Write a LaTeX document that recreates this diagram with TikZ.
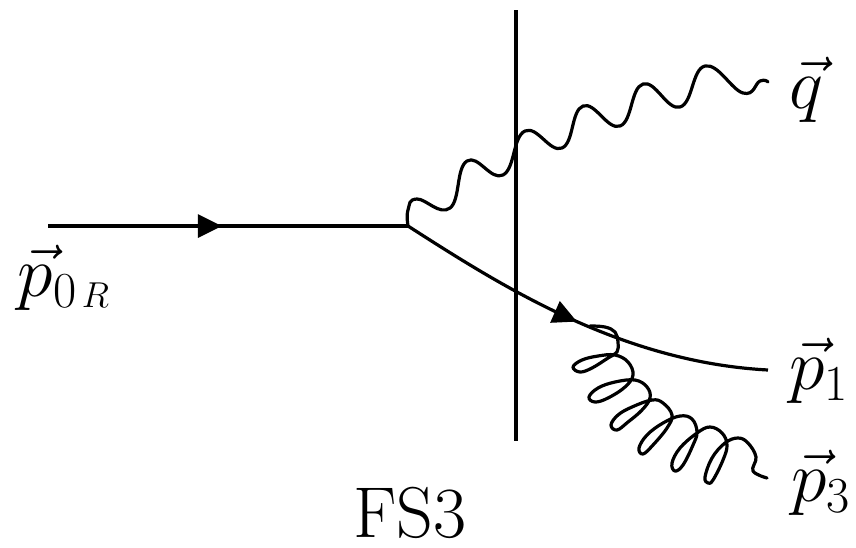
\documentclass[tikz,border=0pt]{standalone}
\usepackage{fix-cm}
\usepackage{amsmath}
\usetikzlibrary{arrows.meta,decorations.markings}
\tikzset{>=Stealth}

\begin{document}
\begin{tikzpicture}[x=0.5pt,y=-0.5pt]
  \tikzset{
    fline/.style={line width=1.6pt, black},
    wline/.style={line width=1.6pt, black, line join=round, line cap=round},
    arrowat/.style={postaction={decorate}, decoration={markings,
      mark=at position #1 with {\arrow{Triangle[length=12pt,width=11.5pt]}}}},
    plabel/.style={inner sep=0pt, font=\fontsize{36}{40}\selectfont}
  }
  \useasboundingbox (0,0) rectangle (856,547);

  \coordinate (in) at (48,226);
  \coordinate (vtx) at (408,226);
  \coordinate (cuttop) at (516,10);
  \coordinate (cutbot) at (516,441);
  \coordinate (qend) at (768,82);
  \coordinate (pone) at (768,370);
  \coordinate (pthree) at (767,478);

  \node[plabel] (lzero) at (64,278) {$\vec{p}_{0\mkern2mu\scriptscriptstyle R}$};
  \node[plabel] (lq) at (806,90) {$\vec{q}$};
  \node[plabel] (lone) at (819,371) {$\vec{p}_1$};
  \node[plabel] (lthree) at (821,483) {$\vec{p}_3$};
  \node[plabel] (lname) at (410,513) {FS3};

  \draw[fline, arrowat=0.483] (in) -- (vtx);
  \draw[fline] (cuttop) -- (cutbot);
  \draw[fline, arrowat=0.495] (vtx) .. controls (500,285) and (620,362) .. (pone);

  % photon
  \draw[wline] plot[smooth, tension=0.75] coordinates {(vtx) (408,210) (417,199) (450,208)
    (467,161) (503,175) (525,131) (562,148) (583,106) (620,126)
    (643,84) (680,107) (705,66) (743,93) (760,81) (qend)};

  % gluon
  \draw[wline] plot[smooth, tension=0.65] coordinates {(590,326) (605,327) (615,332) (618,342)
    (617,352) (608,358) (592,368) (580,372) (573,367) (582,360) (598,356) (615,355)
    (628,362) (633,375) (625,387) (608,398) (595,402) (589,397) (598,388) (615,382)
    (635,380) (647,387) (650,398) (642,410) (628,422) (617,430) (611,425) (618,415)
    (632,407) (652,400) (663,403) (672,415) (667,428) (653,445) (643,454) (639,448)
    (647,435) (663,423) (680,416) (692,419) (697,432) (693,445) (683,465) (675,471)
    (672,463) (680,448) (697,433) (710,427) (722,433) (727,445) (723,460) (713,480)
    (708,483) (705,477) (712,458) (725,443) (738,438) (748,443) (756,457) (753,471) (pthree)};
\end{tikzpicture}
\end{document}
